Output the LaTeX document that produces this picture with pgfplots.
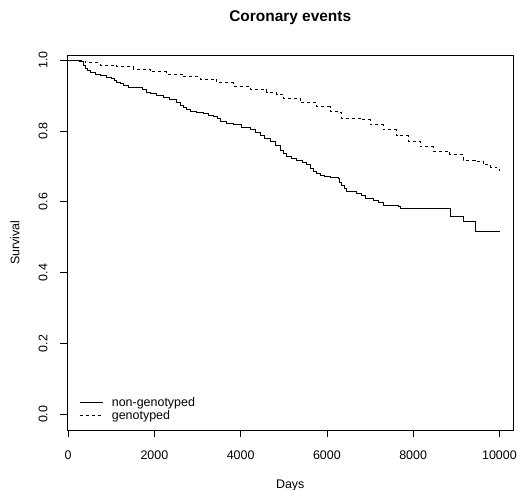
\documentclass[border=0pt]{standalone}
\usepackage{fontspec}
\setmainfont{Liberation Sans}
\usepackage{pgfplots}
\pgfplotsset{compat=1.18}

% Kaplan-Meier estimates: time of each drop (days) and survival after it
\pgfplotstableread{
t     s
0     1.000
300   0.995
350   0.985
394   0.977
450   0.970
510   0.964
620   0.960
741   0.956
880   0.952
1012  0.948
1070  0.943
1128  0.938
1200  0.933
1282  0.929
1398  0.924
1630  0.922
1720  0.916
1823  0.910
1900  0.906
2050  0.900
2209  0.894
2350  0.888
2518  0.881
2600  0.873
2673  0.866
2750  0.860
2827  0.856
2980  0.852
3136  0.849
3250  0.845
3368  0.840
3450  0.834
3522  0.828
3680  0.822
3831  0.817
4020  0.810
4217  0.803
4330  0.796
4449  0.788
4560  0.780
4681  0.770
4800  0.758
4912  0.746
5000  0.737
5067  0.729
5180  0.723
5299  0.718
5420  0.711
5530  0.704
5610  0.695
5685  0.687
5760  0.680
5840  0.675
5950  0.672
6071  0.669
6264  0.666
6300  0.656
6341  0.647
6400  0.637
6457  0.628
6689  0.624
6800  0.617
6882  0.610
7075  0.605
7200  0.598
7307  0.591
7654  0.588
7693  0.580
8870  0.559
9161  0.544
9431  0.516
10010 0.516
}\nongeno

\pgfplotstableread{
t     s
0     1.000
200   0.996
394   0.992
741   0.986
1128  0.981
1514  0.974
1900  0.967
2286  0.960
2673  0.953
3059  0.946
3445  0.936
3831  0.925
4217  0.917
4603  0.909
4835  0.903
4990  0.891
5376  0.879
5762  0.868
6071  0.856
6264  0.852
6341  0.835
6805  0.831
6998  0.817
7307  0.803
7616  0.786
7886  0.770
8156  0.755
8465  0.743
8851  0.733
9161  0.718
9431  0.715
9624  0.704
9800  0.697
9940  0.691
10010 0.688
}\geno

\begin{document}
\begin{tikzpicture}
\useasboundingbox (-67.5bp,-60bp) rectangle (449.5bp,430bp);
\begin{axis}[
  at={(0,0)}, anchor=south west,
  scale only axis,
  width=445.5bp, height=375bp,
  xmin=-15, xmax=10315,
  ymin=-0.0443, ymax=1.0141,
  axis line style={black, line width=0.6bp},
  xtick={0,2000,...,10000},
  ytick={0,0.2,...,1.0},
  tick align=outside,
  major tick length=7bp,
  tick style={black, line width=0.6bp},
  xtick pos=bottom, ytick pos=left,
  scaled x ticks=false,
  /pgf/number format/assume math mode=true,
  x tick label style={yshift=-10bp, /pgf/number format/.cd, fixed, 1000 sep={}},
  y tick label style={xshift=-13bp, rotate=90, anchor=base,
    /pgf/number format/.cd, fixed, fixed zerofill, precision=1},
  tick label style={font=\fontsize{12.5}{15}\selectfont},
  xlabel={Days}, ylabel={Survival},
  every axis x label/.style={at={(rel axis cs:0.5,0)}, anchor=base, yshift=-58bp,
    font=\fontsize{12.5}{15}\selectfont},
  every axis y label/.style={at={(rel axis cs:0,0.5)}, xshift=-52.5bp, anchor=center, rotate=90,
    font=\fontsize{12.5}{15}\selectfont},
  title={Coronary events},
  every axis title/.style={at={(rel axis cs:0.5,1)}, anchor=base, yshift=33bp,
    font=\bfseries\fontsize{15.5}{18}\selectfont},
  legend style={draw=none, fill=none, at={(rel axis cs:0.019,0.095)}, anchor=north west,
    font=\fontsize{12.5}{13}\selectfont, row sep=0.5bp, column sep=8bp,
    nodes={inner sep=1bp}},
  legend cell align=left,
  legend image code/.code={\draw[#1] (0bp,0bp) -- (23bp,0bp);},
]
\addplot[const plot mark left, black, line width=0.75bp] table[x=t, y=s] {\nongeno};
\addlegendentry{non-genotyped}
\addplot[const plot mark left, black, line width=0.75bp, dash pattern=on 3bp off 3bp] table[x=t, y=s] {\geno};
\addlegendentry{genotyped}
\end{axis}
\end{tikzpicture}
\end{document}
